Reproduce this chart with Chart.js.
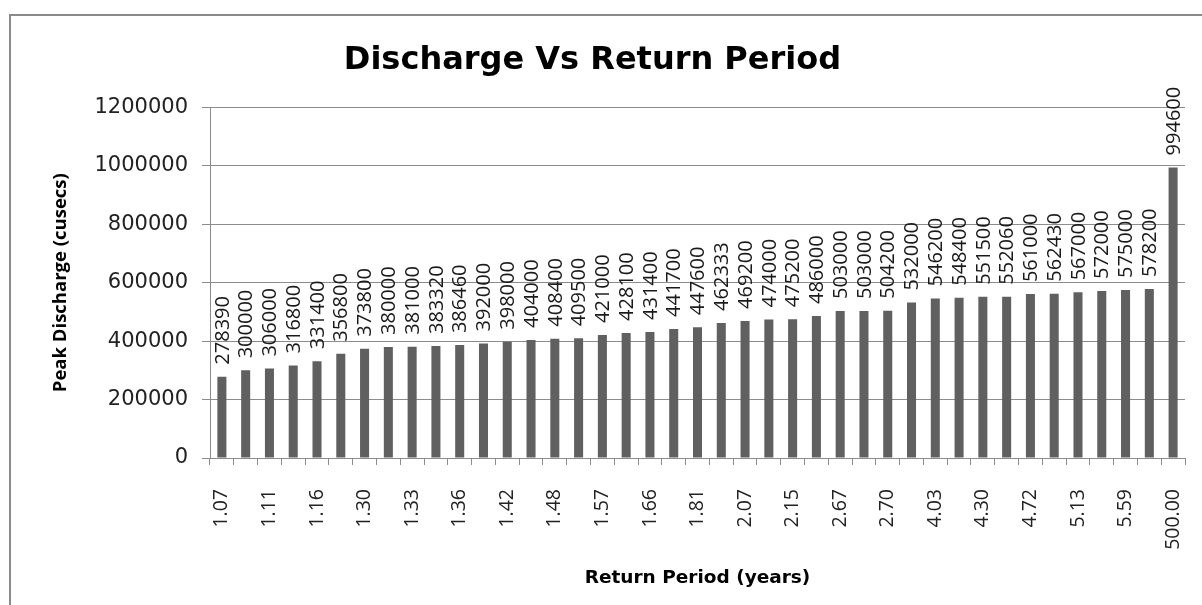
<!DOCTYPE html>
<html><head><meta charset="utf-8">
<script src="https://cdn.jsdelivr.net/npm/chart.js@4"></script>
<style>
html,body{margin:0;padding:0;background:#fff;overflow:hidden;}
#wrap{position:relative;width:1202px;height:605px;}
#frame{position:absolute;left:9px;top:14px;width:1300px;height:700px;border-left:2px solid #8a8a8a;border-top:2px solid #8a8a8a;}
canvas{position:absolute;left:0;top:0;}
</style></head><body>
<div id="wrap"><div id="frame"></div><canvas id="c" width="1202" height="605"></canvas></div>
<script>
const returnPeriods = ['1.07','1.10','1.11','1.13','1.16','1.24','1.30','1.32','1.33','1.34','1.36','1.39','1.42','1.45','1.48','1.49','1.57','1.63','1.66','1.75','1.81','1.98','2.07','2.13','2.15','2.33','2.67','2.67','2.70','3.50','4.03','4.14','4.30','4.32','4.72','4.81','5.13','5.41','5.59','5.77','500.00'];
const peakDischarge = [278390,300000,306000,316800,331400,356800,373800,380000,381000,383320,386460,392000,398000,404000,408400,409500,421000,428100,431400,441700,447600,462333,469200,474000,475200,486000,503000,503000,504200,532000,546200,548400,551500,552060,561000,562430,567000,572000,575000,578200,994600];
const yTickValues = [0,200000,400000,600000,800000,1000000,1200000];
const chartTitle = 'Discharge Vs Return Period';
const xTitle = 'Return Period (years)';
const yTitle = 'Peak Discharge (cusecs)';

const valueLabels = {
  id: 'valueLabels',
  afterDatasetsDraw(chart) {
    const ctx = chart.ctx;
    const meta = chart.getDatasetMeta(0);
    ctx.save();
    ctx.font = '20px "Open Sans"';
    ctx.fillStyle = '#1a1a1a';
    ctx.textAlign = 'left';
    ctx.textBaseline = 'middle';
    meta.data.forEach((bar, i) => {
      ctx.save();
      ctx.translate(bar.x + 1, bar.y - 12);
      ctx.rotate(-Math.PI / 2);
      ctx.fillText(String(peakDischarge[i]), 0, 0);
      ctx.restore();
    });
    ctx.restore();
  }
};

new Chart(document.getElementById('c'), {
  type: 'bar',
  data: {
    labels: returnPeriods,
    datasets: [{
      data: peakDischarge,
      backgroundColor: '#606060',
      borderWidth: 0,
      barPercentage: 0.38,
      categoryPercentage: 1
    }]
  },
  options: {
    responsive: false,
    animation: false,
    devicePixelRatio: 1,
    layout: { padding: { left: 0, right: 17, top: 0, bottom: 0 } },
    plugins: {
      legend: { display: false },
      tooltip: { enabled: false },
      title: {
        display: true, text: chartTitle, color: '#000',
        font: { family: 'DejaVu Sans', size: 32, weight: 'bold', lineHeight: 1.2 },
        padding: { top: 41, bottom: 28 }
      }
    },
    scales: {
      x: {
        grid: { display: true, drawOnChartArea: false, drawTicks: true, tickLength: 7, color: '#8c8c8c', offset: true },
        border: { display: true, color: '#8c8c8c', width: 1 },
        ticks: {
          autoSkip: false, minRotation: 90, maxRotation: 90, padding: 24, color: '#222',
          font: { family: 'Open Sans', size: 19.5 },
          callback: function (v, i) { return i % 2 === 0 ? this.getLabelForValue(v) : ''; }
        },
        title: {
          display: true, text: xTitle, color: '#000',
          font: { family: 'DejaVu Sans', size: 18.5, weight: 'bold' },
          padding: { top: 0, bottom: 16 }
        },
        afterFit(s) { s.height = 147; s.paddingLeft = 0; s.paddingRight = 0; }
      },
      y: {
        min: 0, max: 1200000,
        afterBuildTicks(s) { s.ticks = yTickValues.map(v => ({ value: v })); },
        ticks: { padding: 14, color: '#222', font: { family: 'DejaVu Sans', size: 21 }, callback: v => String(v) },
        grid: { color: '#8c8c8c', tickLength: 8 },
        border: { color: '#8c8c8c' },
        title: {
          display: true, text: yTitle, color: '#000',
          font: { family: 'Open Sans', size: 18.5, weight: 'bold' },
          padding: { top: 50, bottom: 0 }
        },
        afterFit(s) { s.width = 210; }
      }
    }
  },
  plugins: [valueLabels]
});
</script>
</body></html>
